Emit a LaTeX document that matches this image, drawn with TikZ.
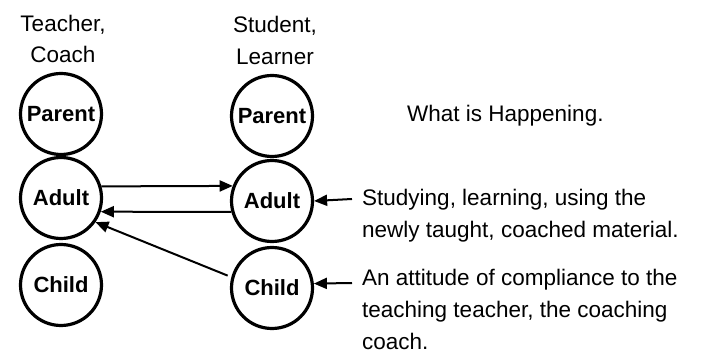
\documentclass[tikz,border=0pt]{standalone}
\usepackage{fontspec}
\setmainfont{Liberation Sans}
\usetikzlibrary{arrows.meta}
\begin{document}
\begin{tikzpicture}[x=1pt,y=-1pt,
  font=\fontsize{22.5}{32}\selectfont,
  ego/.style={circle,draw,line width=3.2pt,minimum size=81pt,inner sep=0pt,font=\fontsize{22}{24}\selectfont\bfseries},
  arr/.style={line width=2pt,-{Triangle[length=13pt,width=11pt]}},
  lbl/.style={align=center,inner sep=0pt},
  txt/.style={align=left,inner sep=0pt,anchor=base west}]
\useasboundingbox (0,0) rectangle (704,352);
% headers
\node[lbl,anchor=base] (h1) at (63,32) {Teacher,};
\node[lbl,anchor=base] (h1b) at (63,63) {Coach};
\node[lbl,anchor=base] (h2) at (275,33) {Student,};
\node[lbl,anchor=base] (h2b) at (275,65) {Learner};
% circles
\node[ego] (lp) at (61,114) {Parent};
\node[ego] (la) at (61,198) {Adult};
\node[ego] (lc) at (61,285) {Child};
\node[ego] (rp) at (272,116) {Parent};
\node[ego] (ra) at (272,201) {Adult};
\node[ego] (rc) at (272,288) {Child};
% texts (base = baseline of last line)
\node[txt] (t0) at (407,122) {What is Happening.};
\node[txt] (t1) at (362,238) {Studying, learning, using the\\newly taught, coached material.};
\node[txt] (t2) at (362,350) {An attitude of compliance to the\\teaching teacher, the coaching\\coach.};
\coordinate (c1) at (352,199);
\coordinate (c2) at (352,283);
% connectors
\draw[arr] (la.16) -- (ra.159);
\draw[arr] (ra.195) -- (la.-19);
\draw[arr,shorten <=4pt] (rc.165) -- (la.-35);
\draw[arr] (c1) -- (ra.east);
\draw[arr] (c2) -- (rc.6);
\end{tikzpicture}
\end{document}
